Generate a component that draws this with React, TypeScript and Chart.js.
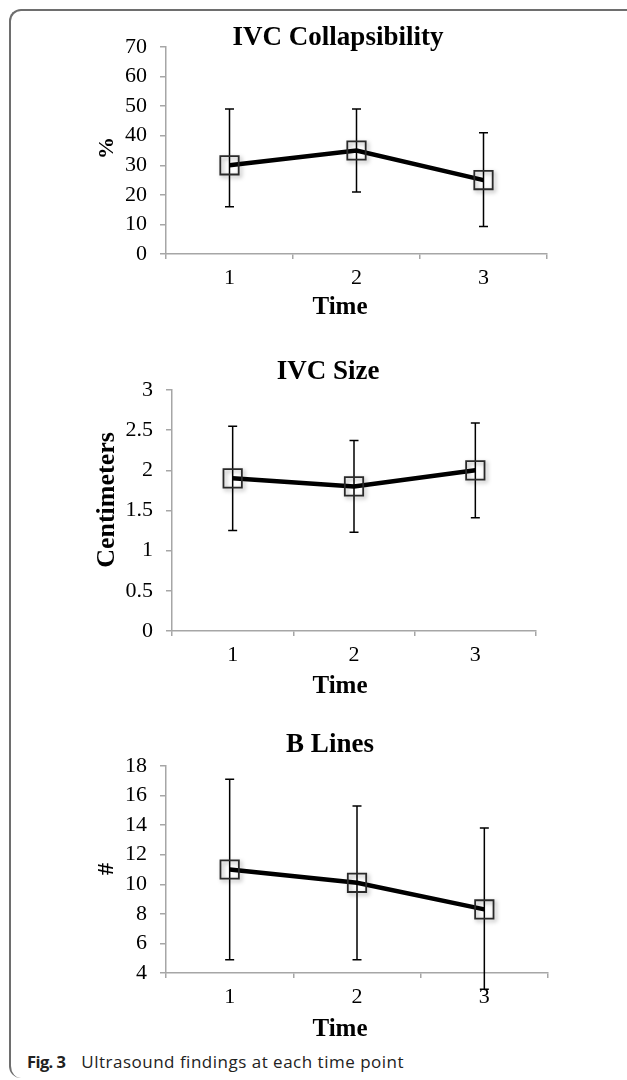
import React, { useEffect, useRef } from "react";
import { Chart, registerables } from "chart.js";

Chart.register(...registerables);

// ---- data ----
const timePoints = ["1", "2", "3"];

const collapsibilityMean = [30, 35, 25];
const collapsibilityLow = [16, 21, 9.3];
const collapsibilityHigh = [49, 49, 41];
const collapsibilityTicks = [0, 10, 20, 30, 40, 50, 60, 70];

const sizeMean = [1.9, 1.8, 2.0];
const sizeLow = [1.25, 1.23, 1.41];
const sizeHigh = [2.55, 2.37, 2.59];
const sizeTicks = [0, 0.5, 1, 1.5, 2, 2.5, 3];

const bLinesMean = [11, 10.1, 8.3];
const bLinesLow = [4.9, 4.9, 2.9];
const bLinesHigh = [17.1, 15.3, 13.8];
const bLinesTicks = [4, 6, 8, 10, 12, 14, 16, 18];

// ---- styles ----
const SERIF = "'Liberation Serif', 'Times New Roman', serif";
const PAGE_W = 627;

type TextItem = { text: string; x: number; y: number; size: number; rotate?: boolean };

const errorBarPlugin = {
  id: "errorBars",
  afterDatasetDraw(chart: any, args: any, opts: any) {
    if (args.index !== 0) return;
    const ctx = chart.ctx;
    const y = chart.scales.y;
    const meta = chart.getDatasetMeta(0);
    const lows: number[] = opts.lows;
    const highs: number[] = opts.highs;
    ctx.save();
    ctx.strokeStyle = "#000";
    ctx.lineWidth = 1.5;
    meta.data.forEach((pt: any, i: number) => {
      const x = pt.x;
      const yl = y.getPixelForValue(lows[i]);
      const yh = y.getPixelForValue(highs[i]);
      ctx.beginPath();
      ctx.moveTo(x, yl);
      ctx.lineTo(x, yh);
      ctx.moveTo(x - 4.5, yl);
      ctx.lineTo(x + 4.5, yl);
      ctx.moveTo(x - 4.5, yh);
      ctx.lineTo(x + 4.5, yh);
      ctx.stroke();
    });
    ctx.restore();
  },
};

const shadowPlugin = {
  id: "markerShadow",
  beforeDatasetDraw(chart: any, args: any) {
    if (args.index !== 1) return;
    const ctx = chart.ctx;
    ctx.save();
    ctx.shadowColor = "rgba(0,0,0,0.35)";
    ctx.shadowBlur = 4;
    ctx.shadowOffsetX = 2;
    ctx.shadowOffsetY = 2;
  },
  afterDatasetDraw(chart: any, args: any) {
    if (args.index !== 1) return;
    chart.ctx.restore();
  },
};

const textPlugin = {
  id: "panelText",
  afterDraw(chart: any, _args: any, opts: any) {
    const ctx = chart.ctx;
    (opts.items as TextItem[]).forEach((it) => {
      ctx.save();
      ctx.font = `bold ${it.size}px ${SERIF}`;
      ctx.fillStyle = "#000";
      ctx.textAlign = "center";
      ctx.textBaseline = "middle";
      ctx.translate(it.x, it.y);
      if (it.rotate) ctx.rotate(-Math.PI / 2);
      ctx.fillText(it.text, 0, 0);
      ctx.restore();
    });
  },
};

type PanelProps = {
  top: number;
  height: number;
  means: number[];
  lows: number[];
  highs: number[];
  ticks: number[];
  area: { left: number; right: number; top: number; bottom: number };
  texts: TextItem[];
};

function Panel({ top, height, means, lows, highs, ticks, area, texts }: PanelProps) {
  const ref = useRef<HTMLCanvasElement>(null);
  useEffect(() => {
    if (!ref.current) return;
    const axisColor = "#a6a6a6";
    const chart = new Chart(ref.current, {
      type: "line",
      data: {
        labels: timePoints,
        datasets: [
          {
            data: means,
            borderColor: "#000",
            borderWidth: 4.5,
            pointRadius: 0,
            tension: 0,
            order: 2,
          },
          {
            data: means,
            showLine: false,
            pointStyle: "rect",
            pointRadius: 13,
            pointBorderColor: "#2a2a2a",
            pointBorderWidth: 1.8,
            pointBackgroundColor: "rgba(255,255,255,0)",
            order: 1,
          },
        ],
      },
      options: {
        responsive: false,
        animation: false,
        events: [],
        layout: {
          padding: { left: 0, top: area.top, right: PAGE_W - area.right, bottom: 0 },
        },
        plugins: {
          legend: { display: false },
          tooltip: { enabled: false },
          title: { display: false },
          errorBars: { lows, highs },
          panelText: { items: texts },
        } as any,
        scales: {
          x: {
            type: "category",
            offset: true,
            grid: {
              offset: true,
              drawOnChartArea: false,
              drawTicks: true,
              tickLength: 5,
              color: axisColor,
              lineWidth: 1.5,
            },
            border: { color: axisColor, width: 1.5 },
            ticks: {
              color: "#000",
              padding: 6,
              font: { family: SERIF, size: 22 },
            },
            afterFit: (scale: any) => {
              scale.height = height - area.bottom;
            },
          },
          y: {
            type: "linear",
            min: ticks[0],
            max: ticks[ticks.length - 1],
            grid: {
              drawOnChartArea: false,
              drawTicks: true,
              tickLength: 6,
              color: axisColor,
              lineWidth: 1.5,
            },
            border: { color: axisColor, width: 1.5 },
            ticks: {
              color: "#000",
              padding: 13,
              font: { family: SERIF, size: 22 },
              callback: (v: any) => String(v),
            },
            afterBuildTicks: (scale: any) => {
              scale.ticks = ticks.map((v) => ({ value: v }));
            },
            afterFit: (scale: any) => {
              scale.width = area.left;
            },
          },
        },
      } as any,
      plugins: [errorBarPlugin, shadowPlugin, textPlugin],
    });
    return () => chart.destroy();
  }, []);
  return (
    <canvas
      ref={ref}
      width={PAGE_W}
      height={height}
      style={{ position: "absolute", left: 0, top, display: "block" }}
    />
  );
}

export default function App() {
  return (
    <div style={{ position: "absolute", left: 0, top: 0, width: PAGE_W, height: 1079, background: "#fff" }}>
      <div
        style={{
          position: "absolute",
          left: 9,
          top: 9,
          width: PAGE_W - 9,
          height: 1069,
          boxSizing: "border-box",
          borderTop: "2px solid #6e6e6e",
          borderLeft: "2px solid #6e6e6e",
          borderTopLeftRadius: 12,
          borderBottomLeftRadius: 12,
        }}
      />
      <Panel
        top={0}
        height={330}
        means={collapsibilityMean}
        lows={collapsibilityLow}
        highs={collapsibilityHigh}
        ticks={collapsibilityTicks}
        area={{ left: 166, right: 547, top: 47, bottom: 254 }}
        texts={[
          { text: "IVC Collapsibility", x: 338, y: 38, size: 27 },
          { text: "Time", x: 340, y: 308, size: 25 },
          { text: "%", x: 107, y: 148, size: 22, rotate: true },
        ]}
      />
      <Panel
        top={330}
        height={370}
        means={sizeMean}
        lows={sizeLow}
        highs={sizeHigh}
        ticks={sizeTicks}
        area={{ left: 172, right: 536, top: 60, bottom: 301 }}
        texts={[
          { text: "IVC Size", x: 328, y: 42, size: 27 },
          { text: "Time", x: 340, y: 357, size: 25 },
          { text: "Centimeters", x: 107, y: 170, size: 26, rotate: true },
        ]}
      />
      <Panel
        top={700}
        height={350}
        means={bLinesMean}
        lows={bLinesLow}
        highs={bLinesHigh}
        ticks={bLinesTicks}
        area={{ left: 166, right: 548, top: 66, bottom: 273 }}
        texts={[
          { text: "B Lines", x: 330, y: 45, size: 27 },
          { text: "Time", x: 340, y: 330, size: 25 },
          { text: "#", x: 107, y: 169, size: 24, rotate: true },
        ]}
      />
      <div
        style={{
          position: "absolute",
          left: 27,
          top: 1051,
          fontFamily: "'Open Sans', sans-serif",
          lineHeight: "22px",
          color: "#222",
          whiteSpace: "nowrap",
        }}
      >
        <span style={{ fontWeight: 700, fontSize: 16.5, letterSpacing: -0.6 }}>Fig. 3</span>
        <span style={{ marginLeft: 16, fontSize: 17, letterSpacing: 0.5 }}>
          Ultrasound findings at each time point
        </span>
      </div>
    </div>
  );
}
